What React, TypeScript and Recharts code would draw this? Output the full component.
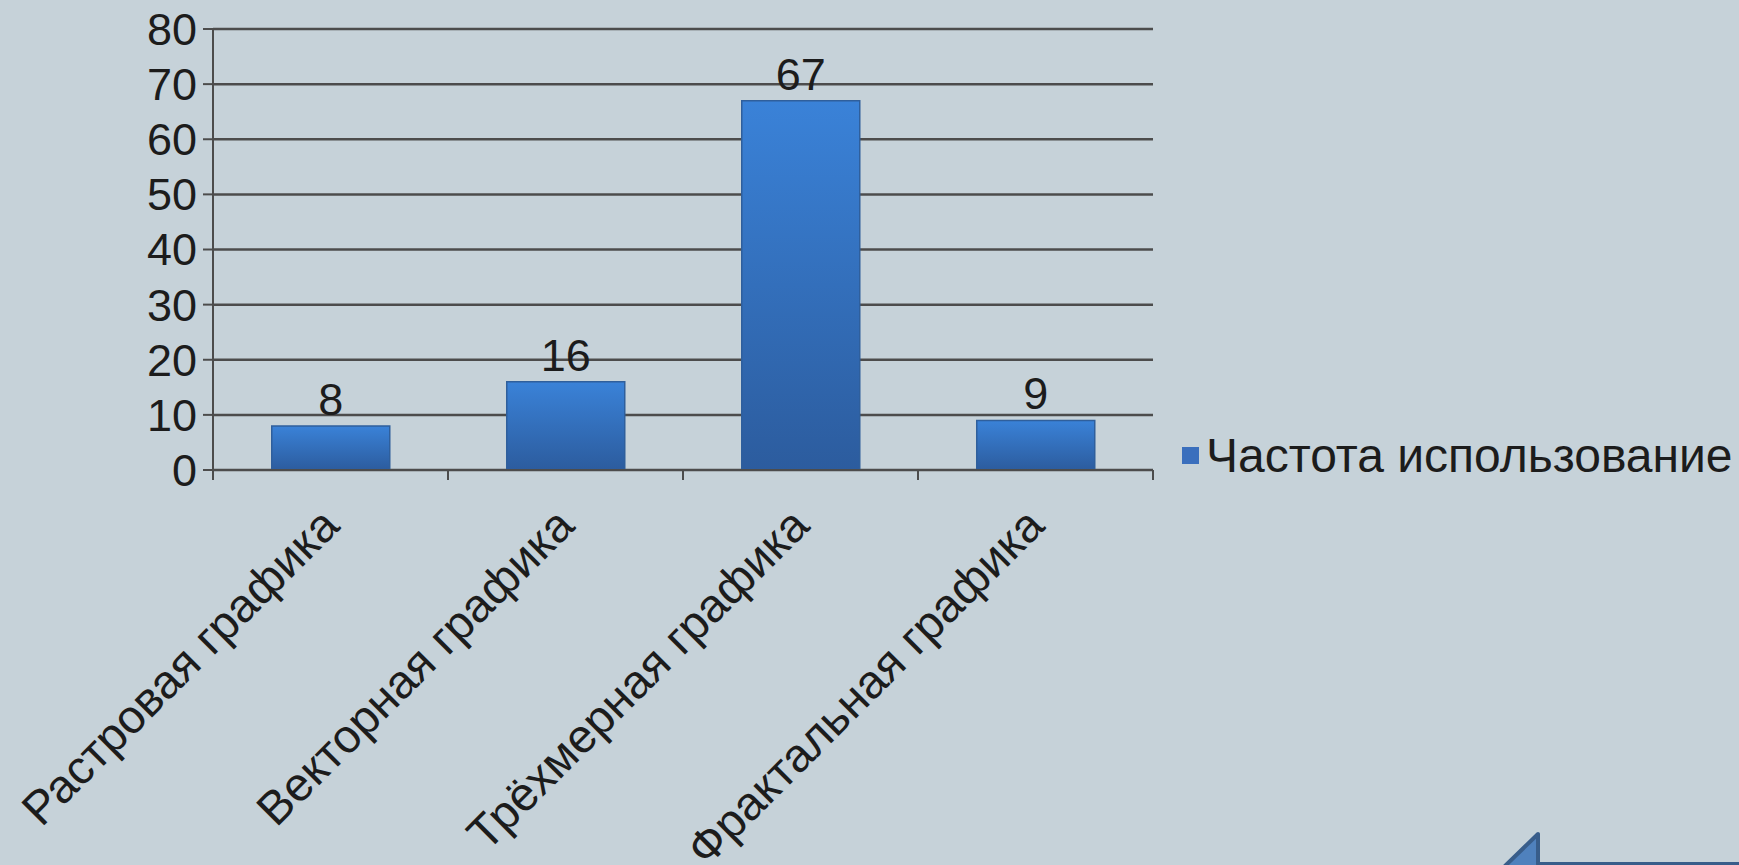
import React from "react";
import { BarChart, Bar, XAxis, YAxis, CartesianGrid, LabelList } from "recharts";

const categories = ["Растровая графика", "Векторная графика", "Трёхмерная графика", "Фрактальная графика"];
const usage = [8, 16, 67, 9];
const yTicks = [0, 10, 20, 30, 40, 50, 60, 70, 80];
const seriesName = "Частота использование";

const data = categories.map((name, i) => ({ name, value: usage[i] }));

const W = 1739;
const H = 865;
const M = { top: 29, right: 586, bottom: 0, left: 0 };
const Y_AXIS_W = 213;
const X_AXIS_H = 395;
const PLOT_W = W - M.left - M.right - Y_AXIS_W;
const BAND = PLOT_W / categories.length;

const TEXT = "#1c1c1c";
const AXIS = "#4c4c4c";
const FONT = "'Liberation Sans', Arial, sans-serif";

function CategoryTick(props: any) {
  const { x, y, payload, index } = props;
  const last = index === categories.length - 1;
  return (
    <g transform={`translate(${x},${y})`}>
      <line x1={-BAND / 2} y1={0} x2={-BAND / 2} y2={10} stroke={AXIS} strokeWidth={2} />
      {last && <line x1={BAND / 2} y1={0} x2={BAND / 2} y2={10} stroke={AXIS} strokeWidth={2} />}
      <text
        transform="translate(11,58) rotate(-45)"
        textAnchor="end"
        fontSize={47}
        fontFamily={FONT}
        fill={TEXT}
      >
        {payload.value}
      </text>
    </g>
  );
}

export default function App() {
  return (
    <div style={{ position: "fixed", left: 0, top: 0, width: W, height: H, background: "#c6d2d9", overflow: "hidden" }}>
      <BarChart width={W} height={H} data={data} margin={M} barCategoryGap="25%">
        <defs>
          <linearGradient id="barFill" x1="0" y1="0" x2="0" y2="1">
            <stop offset="0%" stopColor="#3a82d8" />
            <stop offset="100%" stopColor="#2c5c9e" />
          </linearGradient>
        </defs>
        <CartesianGrid vertical={false} stroke={AXIS} strokeWidth={2.5} />
        <XAxis
          dataKey="name"
          height={X_AXIS_H}
          interval={0}
          tickLine={false}
          tickSize={0}
          tickMargin={0}
          tick={<CategoryTick />}
          axisLine={{ stroke: AXIS, strokeWidth: 2 }}
        />
        <YAxis
          width={Y_AXIS_W}
          domain={[0, 80]}
          ticks={yTicks}
          interval={0}
          tickSize={10}
          tickMargin={6}
          axisLine={{ stroke: AXIS, strokeWidth: 2 }}
          tickLine={{ stroke: AXIS, strokeWidth: 2 }}
          tick={{ fontSize: 45, fontFamily: FONT, fill: TEXT }}
        />
        <Bar dataKey="value" name={seriesName} fill="url(#barFill)" stroke="#2f5f9c" strokeWidth={1.5} isAnimationActive={false}>
          <LabelList dataKey="value" position="top" offset={11} fontSize={45} fontFamily={FONT} fill={TEXT} />
        </Bar>
      </BarChart>
      <div
        style={{
          position: "absolute",
          left: 1182,
          top: 428,
          display: "flex",
          alignItems: "center",
          fontFamily: FONT,
          fontSize: 48,
          color: TEXT,
          whiteSpace: "nowrap",
        }}
      >
        <span style={{ width: 17, height: 17, background: "#3a6fbd", marginRight: 7, display: "inline-block" }} />
        <span>{seriesName}</span>
      </div>
      <svg width={W} height={H} style={{ position: "absolute", left: 0, top: 0, pointerEvents: "none" }}>
        <polygon points="1505,866 1538,834 1538,864 1745,864 1745,900 1505,900" fill="#4f81bd" stroke="#385d8a" strokeWidth={4} strokeLinejoin="round" />
      </svg>
    </div>
  );
}
